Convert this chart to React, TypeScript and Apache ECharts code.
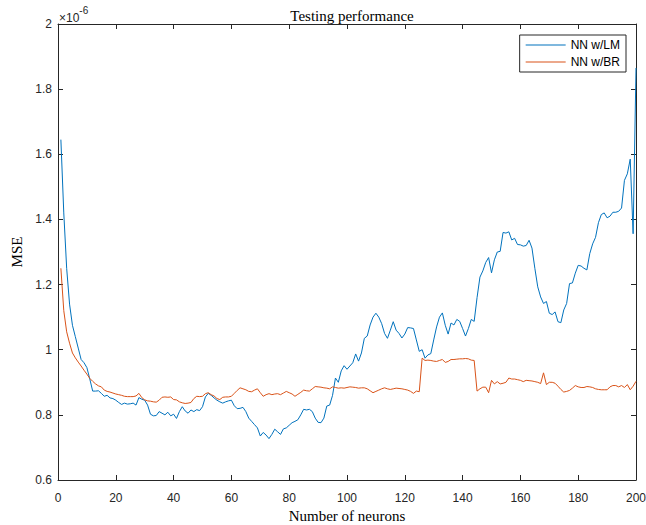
import React, { useEffect, useRef } from "react";
import * as echarts from "echarts";

// MSE (×10^-6) on the test set for networks with 1..200 hidden neurons
const lmMse: number[] = [
  1.645, 1.42, 1.25, 1.14, 1.075, 1.04, 1.005, 0.97, 0.96, 0.945,
  0.91, 0.873, 0.873, 0.874, 0.866, 0.857, 0.86, 0.852, 0.85, 0.845,
  0.838, 0.832, 0.836, 0.833, 0.834, 0.836, 0.83, 0.853, 0.848, 0.845,
  0.83, 0.802, 0.797, 0.798, 0.81, 0.805, 0.8, 0.808, 0.797, 0.802,
  0.789, 0.81, 0.825, 0.812, 0.805, 0.815, 0.81, 0.816, 0.813, 0.825,
  0.855, 0.866, 0.86, 0.852, 0.845, 0.84, 0.836, 0.84, 0.843, 0.845,
  0.828, 0.819, 0.82, 0.823, 0.81, 0.79, 0.78, 0.77, 0.76, 0.735,
  0.746, 0.738, 0.727, 0.74, 0.756, 0.748, 0.74, 0.757, 0.76, 0.768,
  0.776, 0.78, 0.785, 0.8, 0.817, 0.815, 0.817, 0.81, 0.79, 0.777,
  0.776, 0.79, 0.827, 0.83, 0.86, 0.913, 0.9, 0.935, 0.951, 0.94,
  0.95, 0.96, 0.987, 0.965, 0.99, 1.035, 1.042, 1.076, 1.1, 1.112,
  1.1, 1.08, 1.05, 1.035, 1.06, 1.086, 1.06, 1.05, 1.036, 1.048,
  1.068, 1.067, 1.065, 1.03, 0.995, 1.0, 0.974, 0.984, 0.988, 1.03,
  1.07, 1.1, 1.113, 1.075, 1.048, 1.082, 1.076, 1.093, 1.087, 1.065,
  1.042, 1.065, 1.093, 1.087, 1.16, 1.223, 1.242, 1.268, 1.283, 1.236,
  1.276, 1.3, 1.302, 1.36, 1.358, 1.362, 1.337, 1.342, 1.323, 1.322,
  1.318, 1.32, 1.336, 1.312, 1.25, 1.193, 1.162, 1.142, 1.148, 1.112,
  1.108, 1.116, 1.086, 1.083, 1.122, 1.142, 1.203, 1.205, 1.235, 1.259,
  1.257, 1.25, 1.245, 1.295, 1.325, 1.345, 1.39, 1.415, 1.42, 1.405,
  1.41, 1.422, 1.422, 1.425, 1.435, 1.52, 1.54, 1.585, 1.356, 1.865,
];

const brMse: number[] = [
  1.25, 1.12, 1.055, 1.02, 0.99, 0.975, 0.962, 0.95, 0.937, 0.925,
  0.912, 0.903, 0.895, 0.889, 0.886, 0.876, 0.872, 0.87, 0.867, 0.864,
  0.862, 0.86, 0.857, 0.856, 0.856, 0.856, 0.858, 0.866, 0.853, 0.846,
  0.843, 0.842, 0.84, 0.839, 0.845, 0.854, 0.855, 0.854, 0.855, 0.847,
  0.846, 0.84, 0.837, 0.835, 0.836, 0.838, 0.85, 0.857, 0.856, 0.857,
  0.865, 0.868, 0.862, 0.858, 0.85, 0.847, 0.854, 0.855, 0.855, 0.857,
  0.866, 0.875, 0.883, 0.88, 0.877, 0.872, 0.871, 0.876, 0.88, 0.868,
  0.857, 0.862, 0.865, 0.862, 0.864, 0.865, 0.862, 0.867, 0.872, 0.868,
  0.864, 0.857, 0.863, 0.869, 0.876, 0.874, 0.873, 0.88, 0.887, 0.886,
  0.885, 0.883, 0.882, 0.88, 0.886, 0.884, 0.882, 0.883, 0.882, 0.884,
  0.886, 0.885, 0.884, 0.882, 0.883, 0.883, 0.88, 0.874, 0.868, 0.872,
  0.876, 0.88, 0.883, 0.88, 0.878, 0.88, 0.882, 0.881, 0.88, 0.878,
  0.876, 0.872, 0.866, 0.873, 0.871, 0.974, 0.967, 0.968, 0.967, 0.965,
  0.964, 0.967, 0.97, 0.961, 0.964, 0.97, 0.97, 0.971, 0.972, 0.972,
  0.973, 0.972, 0.968, 0.967, 0.873, 0.88, 0.885, 0.885, 0.868, 0.906,
  0.895, 0.902, 0.895, 0.897, 0.9, 0.913, 0.91, 0.91, 0.908, 0.906,
  0.902, 0.906, 0.905, 0.904, 0.902, 0.9, 0.896, 0.929, 0.893, 0.9,
  0.9, 0.897, 0.888, 0.878, 0.87, 0.872, 0.875, 0.882, 0.89, 0.886,
  0.884, 0.884, 0.887, 0.886, 0.884, 0.88, 0.878, 0.877, 0.877, 0.877,
  0.886, 0.89, 0.89, 0.886, 0.89, 0.884, 0.893, 0.877, 0.888, 0.903,
];

const seriesNames = ["NN w/LM", "NN w/BR"];
const seriesColors = ["#0072BD", "#D95319"];

const INK = "#262626";
const SANS = "'Liberation Sans', Arial, Helvetica, sans-serif";
const SERIF = "'Liberation Serif', 'Times New Roman', serif";

// plain horizontal stroke used as the legend key
const LEGEND_KEY = "path://M0,0 L40,0 L40,1.2 L0,1.2 Z";

const toPairs = (vals: number[]) => vals.map((v, i) => [i + 1, v]);

export default function App() {
  const ref = useRef<HTMLDivElement>(null);

  useEffect(() => {
    if (!ref.current) return;
    const chart = echarts.init(ref.current, undefined, { renderer: "svg" });

    const xBase = {
      type: "value" as const,
      min: 0,
      max: 200,
      interval: 20,
      axisLine: { show: true, onZero: false, lineStyle: { color: INK, width: 1 } },
      axisTick: { show: true, inside: true, length: 5, lineStyle: { color: INK } },
      splitLine: { show: false },
    };
    const yBase = {
      type: "value" as const,
      min: 0.6,
      max: 2,
      interval: 0.2,
      axisLine: { show: true, onZero: false, lineStyle: { color: INK, width: 1 } },
      axisTick: { show: true, inside: true, length: 5, lineStyle: { color: INK } },
      splitLine: { show: false },
    };

    chart.setOption({
      animation: false,
      backgroundColor: "#ffffff",
      title: {
        text: "Testing performance",
        left: 347,
        top: 3,
        textAlign: "center",
        textStyle: { fontFamily: SERIF, fontSize: 15, fontWeight: "normal", color: "#000" },
      },
      grid: { left: 58, right: 10, top: 24, bottom: 45, outerBoundsMode: "none", containLabel: false },
      legend: {
        data: seriesNames.map((name) => ({ name, icon: LEGEND_KEY })),
        orient: "vertical",
        right: 20,
        top: 35,
        align: "left",
        itemWidth: 40,
        itemHeight: 1.2,
        itemGap: 5,
        padding: [4, 6, 4, 6],
        borderColor: INK,
        borderWidth: 1,
        backgroundColor: "#fff",
        textStyle: { fontFamily: SANS, fontSize: 12, color: "#000", lineHeight: 12 },
      },
      xAxis: [
        {
          ...xBase,
          position: "bottom",
          name: "Number of neurons",
          nameLocation: "middle",
          nameGap: 25,
          nameTextStyle: { fontFamily: SERIF, fontSize: 15, color: "#000" },
          axisLabel: { fontFamily: SANS, fontSize: 12, color: INK, margin: 12 },
        },
        { ...xBase, position: "top", axisLabel: { show: false } },
      ],
      yAxis: [
        {
          ...yBase,
          position: "left",
          name: "MSE",
          nameLocation: "middle",
          nameGap: 24,
          nameTextStyle: { fontFamily: SERIF, fontSize: 15, color: "#000" },
          axisLabel: { fontFamily: SANS, fontSize: 12, color: INK, margin: 6 },
        },
        { ...yBase, position: "right", axisLabel: { show: false } },
      ],
      graphic: [
        {
          type: "text",
          left: 59,
          top: 5,
          style: {
            text: "{b|×10}{s|-6}",
            rich: {
              b: { fontFamily: SANS, fontSize: 12, fill: INK, verticalAlign: "bottom", padding: [7, 0, 0, 0] },
              s: { fontFamily: SANS, fontSize: 10, fill: INK, verticalAlign: "top" },
            },
          },
        },
      ],
      series: [lmMse, brMse].map((vals, i) => ({
        name: seriesNames[i],
        type: "line",
        xAxisIndex: 0,
        yAxisIndex: 0,
        data: toPairs(vals),
        symbol: "none",
        showSymbol: false,
        lineStyle: { color: seriesColors[i], width: 1 },
        itemStyle: { color: seriesColors[i] },
      })),
    });

    return () => chart.dispose();
  }, []);

  return <div ref={ref} style={{ width: 646, height: 525, position: "absolute", left: 0, top: 0 }} />;
}
